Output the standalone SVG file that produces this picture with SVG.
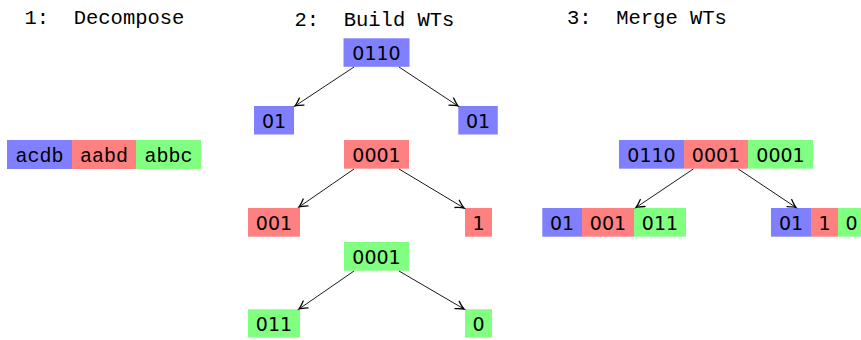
<svg xmlns="http://www.w3.org/2000/svg" width="861" height="340" viewBox="0 0 861 340">
  <style>
    .title { font-family: "Liberation Mono", "Courier New", monospace; font-size: 20.5px; fill: #000; }
    .word { font-family: "Liberation Mono", "Courier New", monospace; font-size: 20px; fill: #000; text-anchor: middle; }
    .bits { font-family: "DejaVu Sans", "Liberation Sans", sans-serif; font-size: 19px; fill: #000; text-anchor: middle; }
    .b { fill: #8080ff; }
    .r { fill: #ff8080; }
    .g { fill: #80ff80; }
    .edge { stroke: #000; stroke-width: 0.9; fill: none; marker-end: url(#tip); }
  </style>
  <defs>
    <marker id="tip" markerUnits="userSpaceOnUse" markerWidth="14" markerHeight="14" viewBox="-10 -7 12 14" refX="0" refY="0" orient="auto">
      <path d="M -8,-4.2 Q -2.6,-0.8 0,0 Q -2.6,0.8 -8,4.2" stroke="#000" stroke-width="1.3" fill="none" stroke-linecap="round"/>
    </marker>
  </defs>

  <rect width="861" height="340" fill="#fff"/>

  <!-- column headings -->
  <g id="headings">
    <text class="title" x="24.5" y="23.6" xml:space="preserve">1:  Decompose</text>
    <text class="title" x="294.5" y="26" xml:space="preserve">2:  Build WTs</text>
    <text class="title" x="567" y="24" xml:space="preserve">3:  Merge WTs</text>
  </g>

  <!-- step 1: decomposed string -->
  <g id="decomposed">
    <rect class="b" x="7" y="140" width="65" height="29"/>
    <rect class="r" x="72" y="140" width="64" height="29"/>
    <rect class="g" x="136" y="140" width="65" height="29"/>
    <text class="word" x="39.5" y="161.5">acdb</text>
    <text class="word" x="104" y="161.5">aabd</text>
    <text class="word" x="168.5" y="161.5">abbc</text>
  </g>

  <!-- step 2: one wavelet tree per block -->
  <g id="wt-blue-root">
    <rect class="b" x="343.5" y="38.3" width="66" height="28.5"/>
    <text class="bits" x="376.5" y="59.8">0110</text>
  </g>
  <g id="wt-blue-left">
    <rect class="b" x="254" y="106" width="40" height="28.5"/>
    <text class="bits" x="274" y="127.5">01</text>
  </g>
  <g id="wt-blue-right">
    <rect class="b" x="458.3" y="106" width="39.5" height="28.5"/>
    <text class="bits" x="478" y="127.5">01</text>
  </g>

  <g id="wt-red-root">
    <rect class="r" x="344" y="140" width="65" height="28.7"/>
    <text class="bits" x="376.5" y="161.5">0001</text>
  </g>
  <g id="wt-red-left">
    <rect class="r" x="248" y="208" width="52" height="28.7"/>
    <text class="bits" x="274" y="229.5">001</text>
  </g>
  <g id="wt-red-right">
    <rect class="r" x="465" y="208" width="27" height="28.7"/>
    <text class="bits" x="478.5" y="229.5">1</text>
  </g>

  <g id="wt-green-root">
    <rect class="g" x="344" y="242" width="65" height="28.7"/>
    <text class="bits" x="376.5" y="263.5">0001</text>
  </g>
  <g id="wt-green-left">
    <rect class="g" x="248" y="309.3" width="52" height="28.3"/>
    <text class="bits" x="274" y="330.8">011</text>
  </g>
  <g id="wt-green-right">
    <rect class="g" x="465" y="309.3" width="27" height="28.3"/>
    <text class="bits" x="478.5" y="330.8">0</text>
  </g>

  <!-- step 3: merged wavelet tree -->
  <g id="merged-root">
    <rect class="b" x="619" y="140" width="65" height="28.7"/>
    <rect class="r" x="684" y="140" width="64" height="28.7"/>
    <rect class="g" x="748" y="140" width="65" height="28.7"/>
    <text class="bits" x="651.5" y="161.5">0110</text>
    <text class="bits" x="716" y="161.5">0001</text>
    <text class="bits" x="780.5" y="161.5">0001</text>
  </g>
  <g id="merged-left">
    <rect class="b" x="542.3" y="208" width="39.7" height="28.7"/>
    <rect class="r" x="582" y="208" width="52" height="28.7"/>
    <rect class="g" x="634" y="208" width="52" height="28.7"/>
    <text class="bits" x="562" y="229.5">01</text>
    <text class="bits" x="608" y="229.5">001</text>
    <text class="bits" x="660" y="229.5">011</text>
  </g>
  <g id="merged-right">
    <rect class="b" x="771" y="208" width="40" height="28.7"/>
    <rect class="r" x="811" y="208" width="27" height="28.7"/>
    <rect class="g" x="838" y="208" width="27" height="28.7"/>
    <text class="bits" x="791" y="229.5">01</text>
    <text class="bits" x="824.5" y="229.5">1</text>
    <text class="bits" x="851.5" y="229.5">0</text>
  </g>

  <!-- tree edges -->
  <g id="connectors">
    <line class="edge" x1="354" y1="67" x2="295" y2="106"/>
    <line class="edge" x1="399" y1="67" x2="458" y2="106"/>
    <line class="edge" x1="354" y1="169" x2="299" y2="207"/>
    <line class="edge" x1="399" y1="169" x2="464" y2="208"/>
    <line class="edge" x1="354" y1="271" x2="299" y2="309"/>
    <line class="edge" x1="399" y1="271" x2="464" y2="309"/>
    <line class="edge" x1="693.3" y1="169" x2="636" y2="207.5"/>
    <line class="edge" x1="738.3" y1="169" x2="796" y2="207.5"/>
  </g>
</svg>
